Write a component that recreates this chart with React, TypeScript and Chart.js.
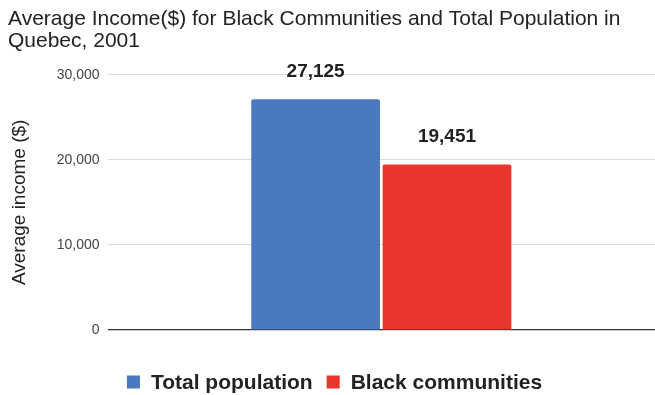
import React, { useEffect, useRef } from "react";
import { Chart, registerables } from "chart.js";

Chart.register(...registerables);

const categories = [""];
const seriesNames = ["Total population", "Black communities"];
const totalPopulation = [27125];
const blackCommunities = [19451];
const yTicks = [0, 10000, 20000, 30000];
const titleLines = [
  "Average Income($) for Black Communities and Total Population in",
  "Quebec, 2001",
];
const yAxisTitle = "Average income ($)";
const seriesColors = ["#4a79be", "#ea352d"];

const FONT = "'Liberation Sans', Arial, Helvetica, sans-serif";

const fmt = (v: number) => v.toLocaleString("en-US");

const valueLabels = {
  id: "valueLabels",
  afterDatasetsDraw(chart: any) {
    const ctx = chart.ctx;
    ctx.save();
    ctx.font = `bold 19px ${FONT}`;
    ctx.fillStyle = "#222";
    ctx.textAlign = "center";
    ctx.textBaseline = "alphabetic";
    chart.data.datasets.forEach((ds: any, i: number) => {
      const meta = chart.getDatasetMeta(i);
      meta.data.forEach((bar: any, j: number) => {
        ctx.fillText(fmt(ds.data[j]), bar.x, bar.y - 22);
      });
    });
    ctx.restore();
  },
};

const bottomLegend = {
  id: "bottomLegend",
  afterDraw(chart: any) {
    const ctx = chart.ctx;
    ctx.save();
    ctx.font = `bold 21px ${FONT}`;
    ctx.textBaseline = "middle";
    ctx.textAlign = "left";
    const box = 13;
    const boxGap = 11;
    const itemGap = 14;
    const items = chart.data.datasets.map((ds: any) => ({
      label: ds.label,
      color: ds.backgroundColor,
      w: ctx.measureText(ds.label).width,
    }));
    const total = items.reduce((s: number, it: any) => s + box + boxGap + it.w, 0) + itemGap * (items.length - 1);
    let x = chart.width / 2 + 7 - total / 2;
    const y = 382;
    items.forEach((it: any) => {
      ctx.fillStyle = it.color;
      ctx.fillRect(x, y - box / 2, box, box);
      x += box + boxGap;
      ctx.fillStyle = "#222";
      ctx.fillText(it.label, x, y + 1);
      x += it.w + itemGap;
    });
    ctx.restore();
  },
};

export default function App() {
  const ref = useRef<HTMLCanvasElement>(null);
  useEffect(() => {
    if (!ref.current) return;
    const chart = new Chart(ref.current, {
      type: "bar",
      data: {
        labels: categories,
        datasets: [
          {
            label: seriesNames[0],
            data: totalPopulation,
            backgroundColor: seriesColors[0],
            borderRadius: 2,
            borderSkipped: "bottom",
            categoryPercentage: 0.48,
            barPercentage: 0.98,
          },
          {
            label: seriesNames[1],
            data: blackCommunities,
            backgroundColor: seriesColors[1],
            borderRadius: 2,
            borderSkipped: "bottom",
            categoryPercentage: 0.48,
            barPercentage: 0.98,
          },
        ],
      },
      options: {
        animation: false,
        responsive: false,
        maintainAspectRatio: false,
        layout: { padding: { left: 8, right: 0, top: 8, bottom: 65 } },
        plugins: {
          title: {
            display: true,
            text: titleLines,
            align: "start",
            color: "#222",
            font: { family: FONT, size: 21, weight: "normal", lineHeight: 1.04 },
            padding: { top: 0, bottom: 23 },
          },
          legend: { display: false },
          tooltip: { enabled: false },
        },
        scales: {
          x: {
            grid: { display: false, drawTicks: false },
            border: { display: false },
            ticks: { display: false },
          },
          y: {
            min: 0,
            max: 30000,
            afterBuildTicks: (axis: any) => {
              axis.ticks = yTicks.map((v) => ({ value: v }));
            },
            border: { display: false },
            grid: {
              drawTicks: false,
              color: (c: any) => (c.tick && c.tick.value === 0 ? "#333" : "#dcdcdc"),
              lineWidth: (c: any) => (c.tick && c.tick.value === 0 ? 1.2 : 1),
            },
            ticks: {
              padding: 8,
              color: "#444",
              font: { family: FONT, size: 14 },
              callback: (v: any) => fmt(Number(v)),
            },
            title: {
              display: true,
              text: yAxisTitle,
              color: "#222",
              font: { family: FONT, size: 19 },
              padding: { top: 0, bottom: 18 },
            },
          },
        },
      },
      plugins: [valueLabels, bottomLegend],
    });
    return () => chart.destroy();
  }, []);
  return (
    <div style={{ position: "absolute", left: 0, top: 0, width: 655, height: 395, background: "#fff" }}>
      <canvas ref={ref} width={655} height={395} style={{ width: 655, height: 395 }} />
    </div>
  );
}
